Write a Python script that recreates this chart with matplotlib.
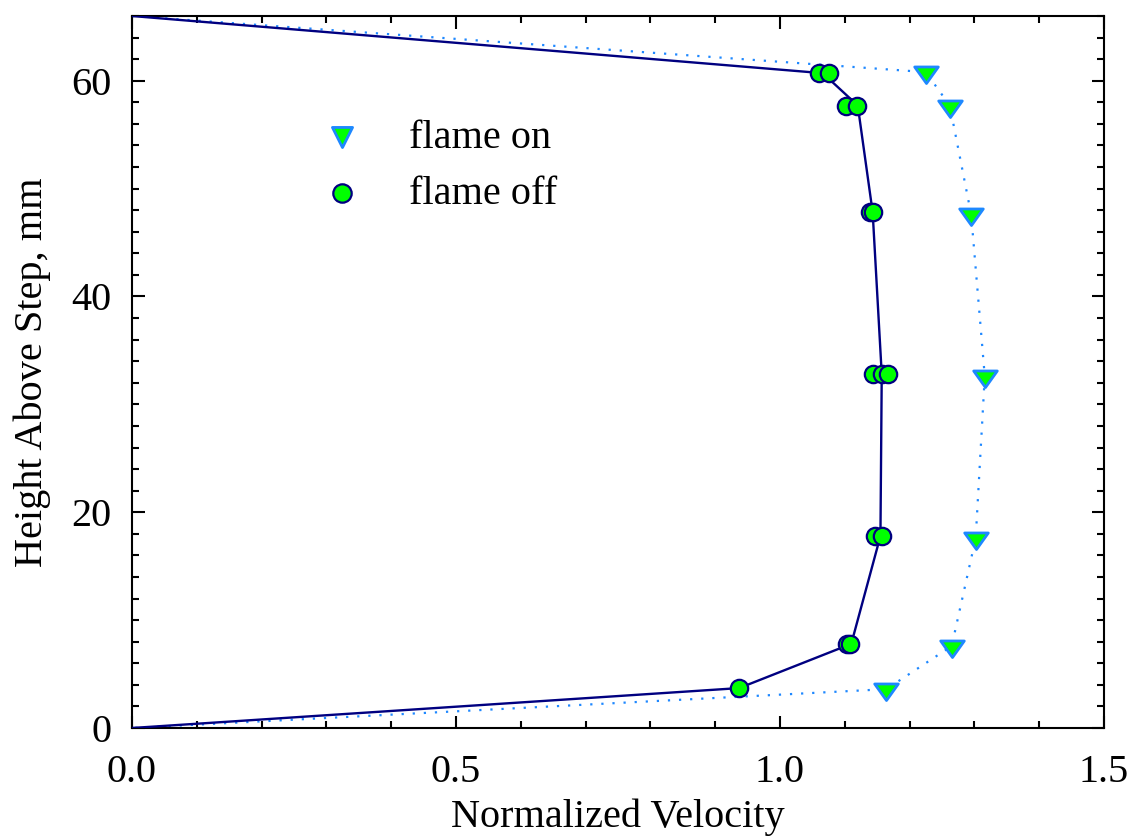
import matplotlib
matplotlib.use("Agg")
import matplotlib.pyplot as plt
import numpy as np
from matplotlib.path import Path
from matplotlib.ticker import MultipleLocator

# flame off (circles) measurements
off_x = [1.060, 1.076, 1.102, 1.119, 1.139, 1.144, 1.144, 1.157, 1.167,
         1.147, 1.157, 1.103, 1.108, 0.937]
off_y = [60.7, 60.7, 57.7, 57.7, 47.8, 47.8, 32.8, 32.8, 32.8,
         17.8, 17.8, 7.8, 7.8, 3.7]
# flame off connecting line
off_line_x = [0.0, 1.066, 1.120, 1.143, 1.157, 1.155, 1.110, 0.937, 0.0]
off_line_y = [66.0, 60.7, 57.7, 47.8, 32.8, 17.8, 7.8, 3.7, 0.0]
# flame on (triangles)
on_x = [0.0, 1.225, 1.262, 1.295, 1.316, 1.302, 1.265, 1.164, 0.0]
on_y = [66.0, 60.8, 57.7, 47.6, 32.6, 17.6, 7.6, 3.6, 0.0]

xticks = [0.0, 0.5, 1.0, 1.5]
xtick_labels = ["0.0", "0.5", "1.0", "1.5"]
yticks = [0, 20, 40, 60]

plt.rcParams['font.family'] = ['Liberation Serif', 'DejaVu Serif']

fig = plt.figure(figsize=(11.31, 8.4), dpi=100)
ax = fig.add_axes([132/1131, 1-728/840, (1104-132)/1131, (728-16)/840])

# triangle marker with centroid at origin
tri = Path([(-1, 0.467), (1, 0.467), (0, -0.933), (-1, 0.467)],
           [Path.MOVETO, Path.LINETO, Path.LINETO, Path.CLOSEPOLY])

lime = '#00ff00'
navy = '#000080'
dblue = '#1e88ff'

ax.plot(on_x, on_y, linestyle=(0, (1, 4.0)), color=dblue, lw=1.6, zorder=2)
ax.plot(off_line_x, off_line_y, '-', color=navy, lw=1.7, zorder=3)
ax.plot(on_x[1:-1], on_y[1:-1], linestyle='none', marker=tri, markersize=17,
        markerfacecolor=lime, markeredgecolor=dblue, markeredgewidth=2.0, zorder=4)
ax.plot(off_x, off_y, linestyle='none', marker='o', markersize=12.5,
        markerfacecolor=lime, markeredgecolor=navy, markeredgewidth=1.6, zorder=4)

# legend handles
h_on = ax.scatter([], [], marker='v', s=210, facecolor=lime, edgecolor=dblue, linewidth=2.0)
h_off = ax.scatter([], [], marker='o', s=175, facecolor=lime, edgecolor=navy, linewidth=1.6)
leg = ax.legend([h_on, h_off], ['flame on', 'flame off'], loc='upper left',
                bbox_to_anchor=(0.175, 0.883), frameon=False, fontsize=29,
                handletextpad=1.15, labelspacing=0.47, borderpad=0, handlelength=1.0)

ax.set_xlim(0, 1.5)
ax.set_ylim(0, 66)
ax.set_xticks(xticks)
ax.set_xticklabels(xtick_labels)
ax.set_yticks(yticks)
ax.xaxis.set_minor_locator(MultipleLocator(0.1))
ax.yaxis.set_minor_locator(MultipleLocator(2))
ax.tick_params(which='both', direction='in', top=True, right=True, width=1.5, labelsize=29)
ax.tick_params(which='major', length=9)
ax.tick_params(which='minor', length=5)
ax.tick_params(axis='y', pad=15)
ax.tick_params(axis='x', pad=19)
for s in ax.spines.values():
    s.set_linewidth(1.5)

ax.set_xlabel('Normalized Velocity', fontsize=29, labelpad=5)
ax.set_ylabel('Height Above Step, mm', fontsize=29, labelpad=14)

fig.savefig('out.png', dpi=100)
